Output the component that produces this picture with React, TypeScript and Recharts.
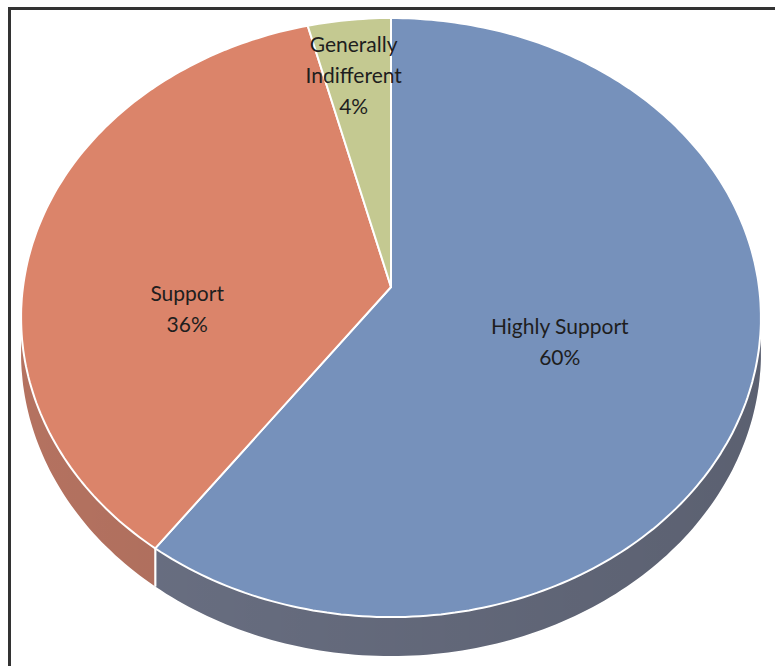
import { PieChart, Pie, Cell } from "recharts";

const NAMES = ["Highly Support", "Support", "Generally Indifferent"];
const VALUES = [60, 36, 4];
const TOP_COLORS = ["#7691BB", "#DB846A", "#C4C991"];
const SIDE_COLORS = ["#6A7083", "#B47260", "#9FA374"];

// label placement (fraction of radius + nudge), style only
const LABEL_R = [0.475, 0.57, 0.78];
const LABEL_DX = [0, 0, -4];
const LABEL_DY = [10, 52, 0];

const W = 775;
const H = 666;
const CX = 391;
const CY = 287;
const R = 368;
const TILT = 0.8055; // vertical squash of the disc
const PERSP = 0.102; // near side looks bigger
const DEPTH = 35;

function project(cx: number, cy: number, r: number, deg: number, drop = 0) {
  const rad = (deg * Math.PI) / 180;
  const X = r * Math.cos(rad);
  const Y = r * Math.sin(rad);
  const f = 1 / (1 + (PERSP * Y) / R);
  return [cx + X * f, cy - Y * TILT * f + drop * f];
}

function arc(cx: number, cy: number, r: number, a0: number, a1: number, drop = 0) {
  const n = Math.max(2, Math.ceil(Math.abs(a1 - a0)));
  const pts: number[][] = [];
  for (let i = 0; i <= n; i++) pts.push(project(cx, cy, r, a0 + ((a1 - a0) * i) / n, drop));
  return pts;
}

const toPath = (pts: number[][]) =>
  "M" + pts.map((p) => p[0].toFixed(1) + "," + p[1].toFixed(1)).join(" L") + " Z";

function TopSector(props: any) {
  const { cx, cy, outerRadius, startAngle, endAngle, fill } = props;
  const pts = [[cx, cy], ...arc(cx, cy, outerRadius, startAngle, endAngle)];
  return <path d={toPath(pts)} fill={fill} stroke="#fff" strokeWidth={2} strokeLinejoin="round" />;
}

function SideSector(props: any) {
  const { cx, cy, outerRadius, startAngle, endAngle, fill } = props;
  const lo0 = Math.min(startAngle, endAngle);
  const hi0 = Math.max(startAngle, endAngle);
  const lo = Math.max(lo0, -180);
  const hi = Math.min(hi0, 0);
  if (lo >= hi) return <g />;
  const top = arc(cx, cy, outerRadius, hi, lo);
  const bot = arc(cx, cy, outerRadius, lo, hi, DEPTH);
  const d = toPath([...top, ...bot]);
  const edges: number[] = [];
  if (lo === lo0 && lo > -180) edges.push(lo);
  if (hi === hi0 && hi < 0) edges.push(hi);
  return (
    <g>
      <defs>
        <linearGradient id="sideShade" gradientUnits="userSpaceOnUse" x1={cx - outerRadius} x2={cx + outerRadius} y1={0} y2={0}>
          <stop offset="0" stopColor="#000" stopOpacity={0} />
          <stop offset="1" stopColor="#000" stopOpacity={0.14} />
        </linearGradient>
      </defs>
      <path d={d} fill={fill} />
      <path d={d} fill="url(#sideShade)" />
      {edges.map((a) => {
        const p = project(cx, cy, outerRadius, a);
        const q = project(cx, cy, outerRadius, a, DEPTH);
        return <line key={a} x1={p[0]} y1={p[1]} x2={q[0]} y2={q[1]} stroke="#fff" strokeWidth={2} />;
      })}
    </g>
  );
}

function renderLabel(props: any) {
  const { cx, cy, midAngle, outerRadius, index } = props;
  const [x0, y0] = project(cx, cy, outerRadius * LABEL_R[index], midAngle);
  const x = x0 + LABEL_DX[index];
  const y = y0 + LABEL_DY[index];
  const lines = VALUES[index] < 10 ? NAMES[index].split(" ") : [NAMES[index]];
  lines.push(VALUES[index] + "%");
  const lh = 31;
  const y1 = y - ((lines.length - 1) * lh) / 2;
  return (
    <text x={x} y={y1} textAnchor="middle" fill="#1e1e1e" fontSize={21} fontFamily="Lato, 'Noto Sans', sans-serif">
      {lines.map((t, i) => (
        <tspan key={i} x={x} y={y1 + i * lh} dominantBaseline="central">
          {t}
        </tspan>
      ))}
    </text>
  );
}

const data = NAMES.map((name, i) => ({ name, value: VALUES[i] }));

export default function App() {
  return (
    <div style={{ position: "absolute", left: 0, top: 0, width: W, height: H, background: "#fff", overflow: "hidden" }}>
      <div
        style={{
          position: "absolute",
          left: 8,
          top: 7,
          width: 900,
          height: 900,
          borderTop: "3px solid #333",
          borderLeft: "3px solid #333",
        }}
      />
      <div style={{ position: "absolute", left: 0, top: 0 }}>
        <PieChart width={W} height={H} margin={{ top: 0, right: 0, bottom: 0, left: 0 }}>
          <Pie
            data={data}
            dataKey="value"
            nameKey="name"
            cx={CX}
            cy={CY}
            outerRadius={R}
            startAngle={90}
            endAngle={-270}
            stroke="none"
            shape={SideSector}
            label={false}
            labelLine={false}
            isAnimationActive={false}
          >
            {data.map((_, i) => (
              <Cell key={i} fill={SIDE_COLORS[i]} />
            ))}
          </Pie>
          <Pie
            data={data}
            dataKey="value"
            nameKey="name"
            cx={CX}
            cy={CY}
            outerRadius={R}
            startAngle={90}
            endAngle={-270}
            shape={TopSector}
            label={renderLabel}
            labelLine={false}
            isAnimationActive={false}
          >
            {data.map((_, i) => (
              <Cell key={i} fill={TOP_COLORS[i]} />
            ))}
          </Pie>
        </PieChart>
      </div>
    </div>
  );
}
